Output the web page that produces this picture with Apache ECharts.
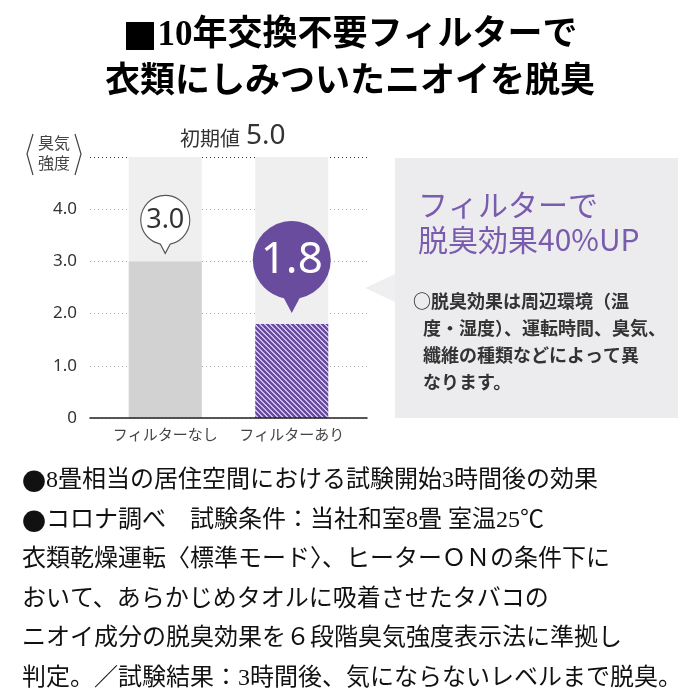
<!DOCTYPE html>
<html>
<head>
<meta charset="utf-8">
<script src="https://cdn.jsdelivr.net/npm/echarts@6/dist/echarts.min.js"></script>
<style>
  html, body { margin: 0; padding: 0; background: #fff; }
  #chart { width: 700px; height: 700px; }
</style>
</head>
<body>
<div id="chart"></div>
<script>
// data
const categories = ['フィルターなし', 'フィルターあり']
const odorValues = [3.0, 1.8]
const initialValue = 5.0
const yTickStep = 1

// texts
const titleLines = ['{sq|■}10年交換不要フィルターで', '衣類にしみついたニオイを脱臭']
const headline = ['フィルターで', '脱臭効果40%UP']
const noteLines = ['○脱臭効果は周辺環境（温', '度・湿度）、運転時間、臭気、', '纖維の種類などによって異', 'なります。']
const footerLines = [
  '{dot|●}8畳相当の居住空間における試験開始3時間後の効果',
  '{dot|●}コロナ調べ　試験条件：当社和室8畳 室温25℃',
  '衣類乾燥運転〈標準モード〉、ヒーターＯＮの条件下に',
  'おいて、あらかじめタオルに吸着させたタバコの',
  'ニオイ成分の脱臭効果を６段階臭気強度表示法に準拠し',
  '判定。／試験結果：3時間後、気にならないレベルまで脱臭。'
]

const purple = '#6a4c9f'
const gothic = "'Noto Sans CJK JP', 'Noto Sans', sans-serif"
const mincho = "'Liberation Serif', 'Noto Sans CJK JP', serif"

// diagonal stripe fill for the "with filter" bar
function makeHatch() {
  const size = 5
  const c = document.createElement('canvas')
  c.width = size
  c.height = size
  const ctx = c.getContext('2d')
  const img = ctx.createImageData(size, size)
  for (let y = 0; y < size; y++) {
    for (let x = 0; x < size; x++) {
      const d = (((x - y) % size) + size) % size
      const light = d < 2
      const i = (y * size + x) * 4
      img.data[i] = light ? 0xcd : 0x6a
      img.data[i + 1] = light ? 0xbb : 0x4c
      img.data[i + 2] = light ? 0xee : 0x9f
      img.data[i + 3] = 255
    }
  }
  ctx.putImageData(img, 0, 0)
  return c
}

const barFills = ['#d2d2d2', { image: makeHatch(), repeat: 'repeat' }]

// speech bubble: circle with a small pointer below
const bubblePath = 'path://M60 98.99 A50 50 0 1 0 40 98.99 L50 118 Z'
const bubbleSizes = [[49, 58], [78, 92]]
const bubbleGaps = [8, 11]
const bubbleStyles = [
  { itemStyle: { color: '#fff', borderColor: '#555', borderWidth: 1.2 }, label: { color: '#333', fontSize: 27 } },
  { itemStyle: { color: purple }, label: { color: '#fff', fontSize: 44 } }
]

const chart = echarts.init(document.getElementById('chart'))

const option = {
  animation: false,
  backgroundColor: '#fff',
  title: {
    text: titleLines.join('\n'),
    left: 'center',
    top: 7,
    textStyle: {
      fontFamily: mincho,
      fontWeight: 'bold',
      fontSize: 35,
      lineHeight: 47,
      color: '#000',
      rich: {
        sq: { fontFamily: gothic, fontSize: 35, fontWeight: 'bold', lineHeight: 47, color: '#000' }
      }
    }
  },
  grid: [
    { left: 90, right: 333, top: 157, bottom: 282 },
    { left: 102, right: 345, top: 157, bottom: 282 }
  ],
  xAxis: [
    {
      gridIndex: 0,
      type: 'category',
      data: categories,
      z: 5,
      axisLine: { show: true, lineStyle: { color: '#222', width: 1.5 } },
      axisTick: { show: false },
      axisLabel: { show: false }
    },
    {
      gridIndex: 1,
      type: 'category',
      data: categories,
      axisLine: { show: false },
      axisTick: { show: false },
      axisLabel: { interval: 0, color: '#444', fontSize: 15, margin: 9, fontFamily: gothic }
    }
  ],
  yAxis: [
    {
      gridIndex: 0,
      type: 'value',
      min: 0,
      max: initialValue,
      interval: yTickStep,
      axisLine: { show: false },
      axisTick: { show: false },
      axisLabel: {
        color: '#333',
        fontSize: 17,
        margin: 13,
        fontFamily: "'Noto Sans', sans-serif",
        formatter: v => (v === 0 ? '0' : v === initialValue ? '' : v.toFixed(1))
      },
      splitLine: {
        lineStyle: {
          type: [1, 3],
          width: 1,
          color: ['#aaa', '#aaa', '#aaa', '#aaa', '#aaa', '#333']
        }
      }
    },
    { gridIndex: 1, type: 'value', min: 0, max: initialValue, show: false }
  ],
  series: [
    {
      name: 'initial',
      type: 'bar',
      xAxisIndex: 1,
      yAxisIndex: 1,
      barWidth: 73,
      barGap: '-100%',
      silent: true,
      itemStyle: { color: '#efefef' },
      data: categories.map(() => initialValue)
    },
    {
      name: 'odor',
      type: 'bar',
      xAxisIndex: 1,
      yAxisIndex: 1,
      barWidth: 73,
      barGap: '-100%',
      data: odorValues.map((v, i) => ({ value: v, itemStyle: { color: barFills[i] } })),
      markPoint: {
        symbol: bubblePath,
        data: odorValues.map((v, i) => {
          const [w, h] = bubbleSizes[i]
          return {
            coord: [categories[i], v],
            value: v,
            symbolSize: [w, h],
            symbolOffset: [0, -(h / 2 + bubbleGaps[i])],
            itemStyle: bubbleStyles[i].itemStyle,
            label: Object.assign({
              show: true,
              position: 'inside',
              offset: [0, -h * 9 / 118],
              fontFamily: "'Noto Sans', sans-serif",
              formatter: p => p.value.toFixed(1)
            }, bubbleStyles[i].label)
          }
        })
      }
    }
  ],
  graphic: [
    // y axis name 〈臭気強度〉
    { type: 'polyline', shape: { points: [[33, 134], [27, 154], [33, 175]] }, style: { stroke: '#444', lineWidth: 1.2, fill: null } },
    { type: 'polyline', shape: { points: [[75, 134], [81, 154], [75, 175]] }, style: { stroke: '#444', lineWidth: 1.2, fill: null } },
    { type: 'text', x: 54, y: 143, style: { text: '臭気', fontSize: 16, fontFamily: gothic, fill: '#444', align: 'center', verticalAlign: 'middle' } },
    { type: 'text', x: 54, y: 163, style: { text: '強度', fontSize: 16, fontFamily: gothic, fill: '#444', align: 'center', verticalAlign: 'middle' } },
    // initial value caption
    { type: 'text', x: 240, y: 138, style: { text: '初期値', fontSize: 20, fontFamily: gothic, fill: '#333', align: 'right', verticalAlign: 'middle' } },
    { type: 'text', x: 246, y: 136, style: { text: initialValue.toFixed(1), fontSize: 28, fontFamily: "'Noto Sans', sans-serif", fill: '#333', align: 'left', verticalAlign: 'middle' } },
    // callout box
    { type: 'polygon', shape: { points: [[365, 288], [395, 274], [395, 302]] }, style: { fill: '#efeff1' } },
    { type: 'rect', shape: { x: 395, y: 158, width: 283, height: 260 }, style: { fill: '#ececee' } },
    { type: 'text', x: 418, y: 205, style: { text: headline[0], fontSize: 30, fontFamily: gothic, fill: '#7a5cae', verticalAlign: 'middle' } },
    { type: 'text', x: 418, y: 240, style: { text: headline[1], fontSize: 30, fontFamily: gothic, fill: '#7a5cae', verticalAlign: 'middle' } },
    ...noteLines.map((t, i) => ({
      type: 'text',
      x: i === 0 ? 413 : 423,
      y: 301 + i * 27,
      style: { text: t, fontSize: 18, fontWeight: 'bold', fontFamily: gothic, fill: '#333', verticalAlign: 'middle' }
    })),
    // footer notes
    {
      type: 'text',
      x: 22,
      y: 461,
      style: {
        text: footerLines.join('\n'),
        fontSize: 24,
        lineHeight: 39.6,
        fontFamily: mincho,
        fill: '#111',
        rich: {
          dot: { fontSize: 24, lineHeight: 39.6, fontFamily: gothic, fill: '#111' }
        }
      }
    }
  ]
}

chart.setOption(option)
</script>
</body>
</html>
